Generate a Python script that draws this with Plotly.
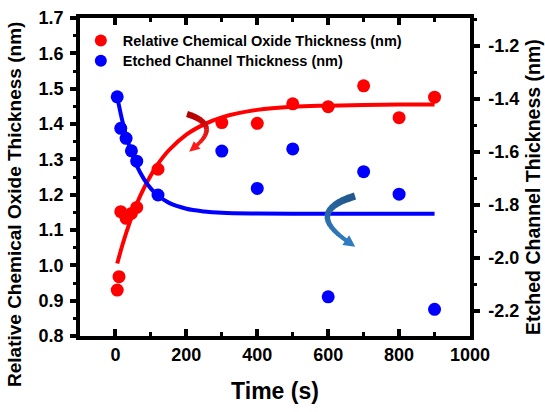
import plotly.graph_objects as go

# ---------------- data ----------------
time_red = [5, 10, 15, 30, 45, 60, 120, 300, 400, 500, 600, 700, 800, 900]
oxide_thickness = [0.930, 0.968, 1.152, 1.133, 1.147, 1.164, 1.272,
                   1.404, 1.402, 1.457, 1.449, 1.508, 1.418, 1.476]

time_blue = [5, 15, 30, 45, 60, 120, 300, 400, 500, 600, 700, 800, 900]
etched_thickness = [-1.392, -1.511, -1.549, -1.596, -1.635, -1.763,
                    -1.597, -1.738, -1.589, -2.148, -1.675, -1.760, -2.195]

fit_time = [5, 20, 40, 60, 80, 100, 120, 150, 200, 250, 300, 400, 500, 600, 700, 800, 900]
oxide_fit = [1.005, 1.059, 1.121, 1.174, 1.218, 1.255, 1.287, 1.325, 1.370,
             1.399, 1.419, 1.440, 1.449, 1.452, 1.454, 1.455, 1.455]
etched_fit = [-1.392, -1.486, -1.582, -1.652, -1.702, -1.739, -1.765, -1.792,
              -1.815, -1.825, -1.830, -1.833, -1.834, -1.834, -1.834, -1.834, -1.834]

x_ticks = [0, 200, 400, 600, 800, 1000]
left_ticks = [0.8, 0.9, 1.0, 1.1, 1.2, 1.3, 1.4, 1.5, 1.6, 1.7]
right_ticks = [-2.2, -2.0, -1.8, -1.6, -1.4, -1.2]
right_tick_labels = ["-2.2", "-2.0", "-1.8", "-1.6", "-1.4", "-1.2"]

x_title = "Time (s)"
left_title = "Relative Chemical Oxide Thickness (nm)"
right_title = "Etched Channel Thickness (nm)"

RED = "#ff0000"
BLUE = "#0000ff"
FONT = "Liberation Sans, Arial, sans-serif"

W, H = 545, 412
ML, MR, MT, MB = 80, 75, 18, 76
PW, PH = W - ML - MR, H - MT - MB


def to_paper(px, py):
    return (px - ML) / PW, 1 - (py - MT) / PH


def lerp_color(c0, c1, f):
    a = [int(c0[i:i + 2], 16) for i in (1, 3, 5)]
    b = [int(c1[i:i + 2], 16) for i in (1, 3, 5)]
    return "#%02x%02x%02x" % tuple(round(a[k] + (b[k] - a[k]) * f) for k in range(3))


def curved_arrow(p0, c, p1, w0, w1, col0, col1, head_len, head_w, n=16):
    """Tapered quadratic-bezier arrow drawn in pixel space -> paper shapes."""
    shapes = []

    def bez(t):
        x = (1 - t) ** 2 * p0[0] + 2 * (1 - t) * t * c[0] + t ** 2 * p1[0]
        y = (1 - t) ** 2 * p0[1] + 2 * (1 - t) * t * c[1] + t ** 2 * p1[1]
        dx = 2 * (1 - t) * (c[0] - p0[0]) + 2 * t * (p1[0] - c[0])
        dy = 2 * (1 - t) * (c[1] - p0[1]) + 2 * t * (p1[1] - c[1])
        L = (dx * dx + dy * dy) ** 0.5
        return x, y, -dy / L, dx / L, dx / L, dy / L

    for i in range(n):
        t0, t1 = i / n, min(1.0, (i + 1.15) / n)
        pts = []
        for t in (t0, t1):
            x, y, nx, ny, _, _ = bez(t)
            hw = (w0 + (w1 - w0) * t) / 2
            pts.append(((x + nx * hw), (y + ny * hw), (x - nx * hw), (y - ny * hw)))
        poly = [(pts[0][0], pts[0][1]), (pts[1][0], pts[1][1]),
                (pts[1][2], pts[1][3]), (pts[0][2], pts[0][3])]
        pp = [to_paper(a, b) for a, b in poly]
        path = "M " + " L ".join(f"{a:.5f},{b:.5f}" for a, b in pp) + " Z"
        col = lerp_color(col0, col1, (i + 0.5) / n)
        shapes.append(dict(type="path", xref="paper", yref="paper", path=path,
                           fillcolor=col, line=dict(width=0), layer="above"))
    x, y, nx, ny, tx, ty = bez(1.0)
    tip = (x + tx * head_len, y + ty * head_len)
    b1 = (x - tx * 1.5 + nx * head_w, y - ty * 1.5 + ny * head_w)
    b2 = (x - tx * 1.5 - nx * head_w, y - ty * 1.5 - ny * head_w)
    pp = [to_paper(*p) for p in (tip, b1, b2)]
    path = "M " + " L ".join(f"{a:.5f},{b:.5f}" for a, b in pp) + " Z"
    shapes.append(dict(type="path", xref="paper", yref="paper", path=path,
                       fillcolor=col1, line=dict(width=0), layer="above"))
    return shapes


fig = go.Figure()

fig.add_trace(go.Scatter(x=fit_time, y=oxide_fit, mode="lines",
                         line=dict(color=RED, width=4, shape="spline"),
                         showlegend=False, hoverinfo="skip"))
fig.add_trace(go.Scatter(x=fit_time, y=etched_fit, mode="lines", yaxis="y2",
                         line=dict(color=BLUE, width=4, shape="spline"),
                         showlegend=False, hoverinfo="skip"))
fig.add_trace(go.Scatter(x=time_red, y=oxide_thickness, mode="markers",
                         name="Relative Chemical Oxide Thickness (nm)", legend="legend",
                         marker=dict(color=RED, size=13, line=dict(width=0))))
fig.add_trace(go.Scatter(x=time_blue, y=etched_thickness, mode="markers", yaxis="y2",
                         name="Etched Channel Thickness (nm)", legend="legend2",
                         marker=dict(color=BLUE, size=13, line=dict(width=0))))

shapes = []
shapes += curved_arrow((187, 114), (221, 124.5), (196, 146), 6.5, 3.5,
                       "#b00000", "#ff1a1a", 9, 5)
shapes += curved_arrow((355, 196), (304, 211.5), (347, 241), 7.5, 4,
                       "#22588c", "#2f7bc0", 10, 6)

lx, ly = to_paper(14, 205)
rx, ry = to_paper(533, 187)
annotations = [
    dict(text=left_title, xref="paper", yref="paper", x=lx, y=ly, showarrow=False,
         textangle=-90, xanchor="center", yanchor="middle",
         font=dict(family=FONT, size=19, color="black", weight="bold")),
    dict(text=right_title, xref="paper", yref="paper", x=rx, y=ry, showarrow=False,
         textangle=-90, xanchor="center", yanchor="middle",
         font=dict(family=FONT, size=19.5, color="black", weight="bold")),
]

axis_common = dict(showline=True, linecolor="black", linewidth=3.5,
                   showgrid=False, zeroline=False,
                   tickfont=dict(family=FONT, size=18, color="black", weight="bold"),
                   tickcolor="black")

legend_common = dict(xanchor="left", yanchor="top", bgcolor="rgba(0,0,0,0)",
                     itemsizing="constant", itemwidth=34,
                     font=dict(family=FONT, size=14.5, color="black", weight="bold"))

fig.update_layout(
    width=W, height=H,
    margin=dict(l=ML, r=MR, t=MT, b=MB, autoexpand=False),
    plot_bgcolor="white", paper_bgcolor="white",
    font=dict(family=FONT, color="black"),
    shapes=shapes,
    annotations=annotations,
    xaxis=dict(range=[-100, 1000], tickvals=x_ticks, ticks="inside", ticklen=7,
               tickwidth=3.5, mirror="ticks",
               minor=dict(ticks="inside", ticklen=4, tickwidth=3, dtick=100,
                          tick0=0, tickcolor="black"),
               title=dict(text=x_title, standoff=20,
                          font=dict(family=FONT, size=23, weight="bold")),
               **axis_common),
    yaxis=dict(range=[0.8, 1.7], tickvals=left_ticks, tickformat=".1f",
               ticks="outside", ticklen=6, tickwidth=3.5, ticklabelstandoff=3,
               minor=dict(ticks="outside", ticklen=3, tickwidth=3, dtick=0.05,
                          tick0=0.8, tickcolor="black"),
               **axis_common),
    yaxis2=dict(range=[-2.296, -1.094], tickvals=right_ticks, ticktext=right_tick_labels,
                overlaying="y", side="right",
                ticks="outside", ticklen=6, tickwidth=3.5, ticklabelstandoff=5,
                minor=dict(ticks="outside", ticklen=3, tickwidth=3, dtick=0.1,
                           tick0=-2.3, tickcolor="black"),
                **axis_common),
    legend=dict(x=-0.003, y=0.979, **legend_common),
    legend2=dict(x=-0.003, y=0.916, **legend_common),
)

fig.write_html("out.html", config={"displayModeBar": False},
               post_script="document.body.style.margin='0';")
